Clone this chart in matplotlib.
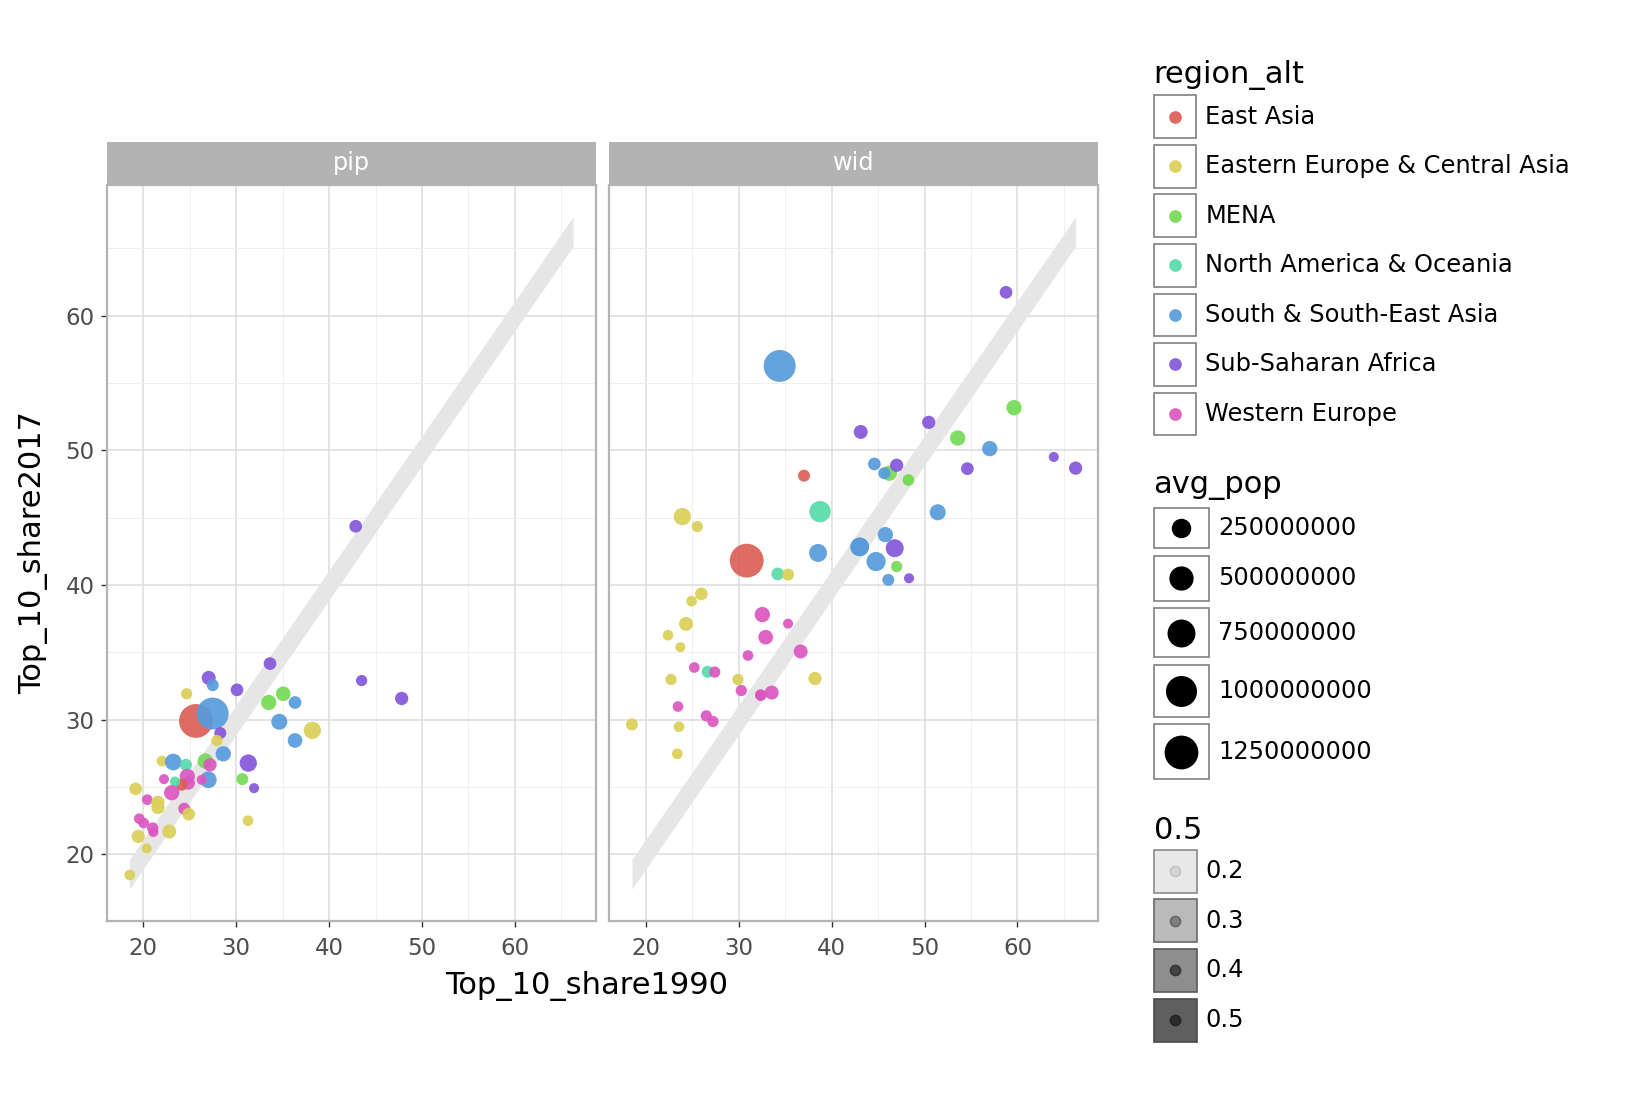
#!/usr/bin/env python3
"""
Top 10% income share, 1990 vs 2017, faceted by source (pip / wid).
Usage: python plot.py
"""

import colorsys
import numpy as np
import matplotlib
matplotlib.use('Agg')
import matplotlib.pyplot as plt
from matplotlib.patches import Rectangle

# --- data -------------------------------------------------------------------
REGIONS = ['East Asia', 'Eastern Europe & Central Asia', 'MENA',
           'North America & Oceania', 'South & South-East Asia',
           'Sub-Saharan Africa', 'Western Europe']
CODES = ['EA', 'EE', 'MN', 'NA', 'SA', 'SS', 'WE']

# pip panel: share 1990, share 2017, region, avg population (millions)
pip_x = [33.64, 27.04, 27.47, 30.09, 24.67, 33.50, 35.07, 36.33, 25.67, 27.47,
         34.64, 38.20, 36.33, 28.29, 27.93, 28.61, 31.30, 22.01, 23.23, 24.60,
         26.67, 27.18, 30.66, 31.92, 27.00, 26.29, 24.74, 24.85, 24.13, 23.41,
         22.23, 23.06, 19.18, 20.43, 21.58, 21.58, 24.41, 24.89, 31.27, 19.57,
         20.04, 21.01, 21.08, 22.80, 19.46, 20.37, 18.55, 42.86, 43.50, 47.81]
pip_y = [34.16, 33.10, 32.56, 32.21, 31.92, 31.27, 31.92, 31.27, 29.90, 30.45,
         29.84, 29.20, 28.45, 29.00, 28.45, 27.46, 26.77, 26.92, 26.85, 26.64,
         26.92, 26.64, 25.58, 24.91, 25.53, 25.53, 25.78, 25.29, 25.16, 25.40,
         25.58, 24.57, 24.86, 24.05, 23.85, 23.47, 23.38, 22.98, 22.49, 22.64,
         22.32, 21.95, 21.65, 21.69, 21.32, 20.43, 18.46, 44.36, 32.90, 31.57]
pip_region = ['SS', 'SS', 'SA', 'SS', 'EE', 'MN', 'MN', 'SA', 'EA', 'SA',
              'SA', 'EE', 'SA', 'SS', 'EE', 'SA', 'SS', 'EE', 'SA', 'NA',
              'MN', 'WE', 'MN', 'SS', 'SA', 'WE', 'WE', 'WE', 'EA', 'NA',
              'WE', 'WE', 'EE', 'WE', 'EE', 'EE', 'WE', 'EE', 'EE', 'WE',
              'WE', 'WE', 'WE', 'EE', 'EE', 'EE', 'EE', 'SS', 'SS', 'SS']
pip_pop = [44, 70, 32, 44, 22, 104, 86, 44, 1250, 1080,
           124, 166, 86, 32, 22, 104, 166, 15, 145, 32,
           104, 55, 32, 9, 145, 9, 104, 55, 32, 9,
           9, 104, 44, 15, 55, 55, 32, 44, 15, 15,
           15, 22, 9, 70, 55, 9, 15, 44, 22, 55]

# wid panel
wid_x = [37.03, 23.93, 25.54, 30.86, 34.20, 35.31, 25.98, 24.94, 24.33, 22.39,
         23.71, 32.54, 35.31, 32.90, 36.67, 31.00, 25.22, 26.66, 27.42, 22.71,
         29.92, 38.21, 30.28, 32.37, 32.37, 33.55, 23.47, 26.51, 27.23, 18.51,
         23.57, 23.39, 58.77, 34.41, 59.63, 43.13, 50.45, 53.57, 57.02, 63.91,
         44.60, 46.21, 45.67, 47.00, 48.26, 48.26, 54.61, 38.75, 51.42, 38.54,
         43.02, 43.02, 45.78, 46.79, 44.78, 47.00, 46.10, 48.33, 66.26]
wid_y = [48.12, 45.08, 44.34, 41.81, 40.82, 40.77, 39.34, 38.80, 37.11, 36.27,
         35.38, 37.80, 37.13, 36.12, 35.06, 34.76, 33.87, 33.55, 33.53, 32.98,
         32.98, 33.05, 32.16, 31.82, 31.82, 32.01, 30.97, 30.28, 29.86, 29.64,
         29.47, 27.46, 61.74, 56.27, 53.17, 51.37, 52.08, 50.92, 50.13, 49.51,
         48.99, 48.30, 48.30, 48.89, 47.80, 47.80, 48.64, 45.45, 45.40, 42.38,
         42.83, 42.83, 43.74, 42.73, 41.74, 41.37, 40.38, 40.50, 48.68]
wid_region = ['EA', 'EE', 'EE', 'EA', 'NA', 'EE', 'EE', 'EE', 'EE', 'EE',
              'EE', 'WE', 'WE', 'WE', 'WE', 'WE', 'WE', 'NA', 'WE', 'EE',
              'EE', 'EE', 'WE', 'WE', 'WE', 'WE', 'WE', 'WE', 'WE', 'EE',
              'EE', 'EE', 'SS', 'SA', 'MN', 'SS', 'SS', 'MN', 'SA', 'SS',
              'SA', 'MN', 'SA', 'SS', 'MN', 'MN', 'SS', 'NA', 'SA', 'SA',
              'SA', 'SA', 'SA', 'SS', 'SA', 'MN', 'SA', 'SS', 'SS']
wid_pop = [32, 166, 22, 1250, 44, 32, 44, 15, 70, 15,
           9, 104, 9, 86, 70, 15, 15, 32, 22, 22,
           22, 55, 22, 22, 22, 70, 15, 22, 22, 32,
           15, 15, 44, 1080, 104, 70, 55, 104, 104, 9,
           44, 104, 32, 55, 22, 22, 44, 338, 124, 190,
           215, 215, 104, 190, 240, 22, 32, 9, 55]

size_breaks = [250000000, 500000000, 750000000, 1000000000, 1250000000]
alpha_breaks = ['0.2', '0.3', '0.4', '0.5']

# --- styling ----------------------------------------------------------------
W, H = 1568.0, 1056.0          # layout measured on a 1568x1056 grid
PX = 1628.0 / W                # grid px -> output px
POP_MAX = 1270.0
GREY = '#b3b3b3'

# plotnine-like hue palette
COLORS = {c: colorsys.hls_to_rgb((0.01 + i / 7.0) % 1, 0.6, 0.65)
          for i, c in enumerate(CODES)}


def marker_area(pop_m):
    """Area-scaled size (1..6) turned into a scatter area in pt^2."""
    size = 1 + 5 * np.sqrt(np.asarray(pop_m, dtype=float) / POP_MAX)
    d_px = 5.23 * (size + 0.5)
    return (d_px * 0.72) ** 2


def fig_box(x0, y0, x1, y1):
    return [x0 / W, 1 - y1 / H, (x1 - x0) / W, (y1 - y0) / H]


def draw_panel(fig, x0, x1, name, xs, ys, regs, pops, band_x, show_y):
    ax = fig.add_axes(fig_box(x0, 178, x1, 887))
    ax.set_xlim(16.09, 68.72)
    ax.set_ylim(15.07, 69.73)
    ax.set_xticks([20, 30, 40, 50, 60])
    ax.set_xticks([25, 35, 45, 55, 65], minor=True)
    ax.set_yticks([20, 30, 40, 50, 60])
    ax.set_yticks([25, 35, 45, 55, 65], minor=True)
    ax.grid(which='major', color='#dcdcdc', lw=1.1)
    ax.grid(which='minor', color='#efefef', lw=0.7)
    ax.set_axisbelow(True)
    for sp in ax.spines.values():
        sp.set_color(GREY)
        sp.set_linewidth(1.6)
    ax.tick_params(which='major', length=4, width=1, color='#333333',
                   labelcolor='#4d4d4d', labelsize=16.5)
    ax.tick_params(axis='x', pad=8)
    ax.tick_params(axis='y', pad=5)
    ax.tick_params(which='minor', length=0)
    if not show_y:
        ax.tick_params(axis='y', left=False, labelleft=False)

    # reference band around y = x
    bx = np.array(band_x)
    ax.fill_between(bx, bx - 1.1, bx + 1.1, color='#e6e6e6', lw=0, zorder=1.5)

    cols = [COLORS[r] for r in regs]
    ax.scatter(xs, ys, s=marker_area(pops), c=cols, alpha=0.92,
               linewidths=0, zorder=3)

    strip = fig.add_axes(fig_box(x0, 137, x1, 178))
    strip.set_facecolor(GREY)
    strip.set_xticks([])
    strip.set_yticks([])
    for sp in strip.spines.values():
        sp.set_visible(False)
    strip.text(0.5, 0.5, name, color='white', fontsize=17.3,
               ha='center', va='center', transform=strip.transAxes)
    return ax


def draw_legends(fig):
    lg = fig.add_axes([0, 0, 1, 1], zorder=10)
    lg.set_xlim(0, W)
    lg.set_ylim(H, 0)
    lg.axis('off')

    # region colours
    lg.text(1111, 72, 'region_alt', fontsize=22, va='center', ha='left')
    for i, (code, name) in enumerate(zip(CODES, REGIONS)):
        top = 92 + 47.7 * i
        lg.add_patch(Rectangle((1111, top), 41, 41, fc='white',
                               ec='#808080', lw=1.2))
        lg.scatter([1131.5], [top + 20.5], s=(12.7 * 0.72) ** 2,
                   color=COLORS[code], alpha=0.92, linewidths=0)
        lg.text(1161, top + 20.5, name, fontsize=17.4, va='center')

    # population sizes
    lg.text(1111, 468, 'avg_pop', fontsize=22, va='center', ha='left')
    top = 489.0
    for b in size_breaks:
        area = marker_area(b / 1e6)
        d_view = np.sqrt(area) / 0.72 / PX
        h = d_view + 20
        lg.add_patch(Rectangle((1111, top), 53, h, fc='white',
                               ec='#808080', lw=1.2))
        lg.scatter([1137.5], [top + h / 2], s=area, color='black',
                   linewidths=0)
        lg.text(1173, top + h / 2, str(b), fontsize=17.4, va='center')
        top += h + 7.5

    # constant alpha mapped as a variable
    fills = ['#e8e8e8', '#bababa', '#8e8e8e', '#5f5f5f']
    edges = ['#8a8a8a', '#6a6a6a', '#585858', '#4a4a4a']
    dots = ['#d4d4d4', '#7f7f7f', '#444444', '#2c2c2c']
    rings = ['#c2c2c2', '#666666', '#333333', '#222222']
    lg.text(1111, 800, '0.5', fontsize=22, va='center', ha='left')
    for i, lab in enumerate(alpha_breaks):
        top = 818.7 + 47.8 * i
        lg.add_patch(Rectangle((1111, top), 41.5, 41.5, fc=fills[i],
                               ec=edges[i], lw=1.2))
        lg.scatter([1131.7], [top + 20.7], s=(10 * 0.72) ** 2, color=dots[i],
                   edgecolors=rings[i], linewidths=1.2)
        lg.text(1161, top + 20.7, lab, fontsize=17.4, va='center')


def main():
    plt.rcParams['font.family'] = 'DejaVu Sans'
    fig = plt.figure(figsize=(16.28, 10.96), dpi=100)
    fig.patch.set_facecolor('white')

    all_x = pip_x + wid_x
    band_x = [min(all_x), max(all_x)]

    draw_panel(fig, 103, 574, 'pip', pip_x, pip_y, pip_region, pip_pop,
               band_x, True)
    draw_panel(fig, 587, 1058, 'wid', wid_x, wid_y, wid_region, wid_pop,
               band_x, False)

    fig.text(565 / W, 1 - 950 / H, 'Top_10_share1990', fontsize=22,
             ha='center', va='center')
    fig.text(32 / W, 1 - 532 / H, 'Top_10_share2017', fontsize=22,
             ha='center', va='center', rotation=90)

    draw_legends(fig)

    fig.savefig('out.png', dpi=100, facecolor='white')
    plt.close(fig)


if __name__ == '__main__':
    main()
